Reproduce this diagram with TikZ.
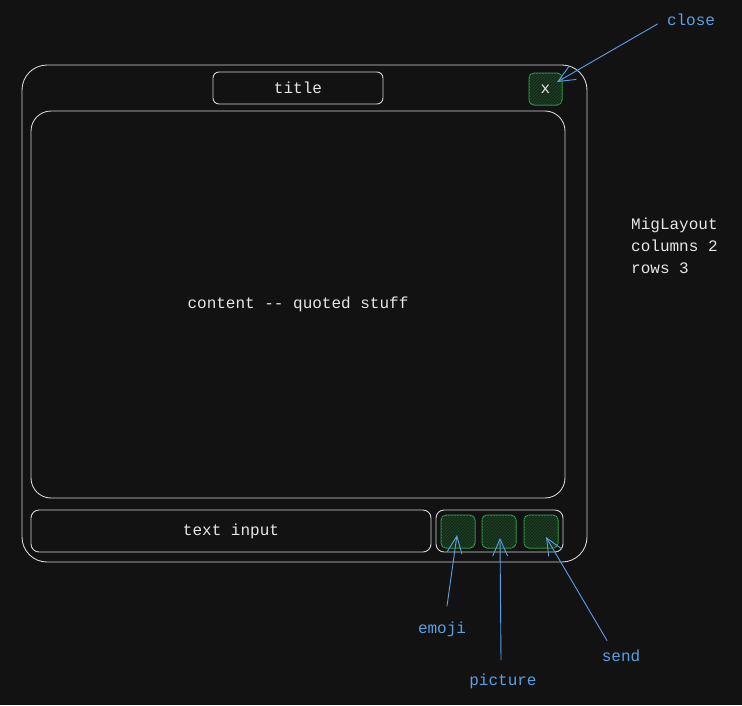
\documentclass[tikz,border=0pt]{standalone}
\usepackage{fontspec}
\setmonofont{Liberation Mono}
\usetikzlibrary{arrows.meta,patterns}
\definecolor{bgcol}{HTML}{121212}
\definecolor{linecol}{HTML}{D4D4D4}
\definecolor{txtcol}{HTML}{E6E6E6}
\definecolor{notecol}{HTML}{5AA0E4}
\definecolor{btnline}{HTML}{2F9E44}
\definecolor{btnfill}{HTML}{142A17}
\definecolor{btnhatch}{HTML}{20452A}
\tikzset{
	panel/.style={draw=linecol,line width=0.9pt,rounded corners=#1,inner sep=0pt},
	btn/.style={draw=btnline,line width=1pt,rounded corners=5pt,fill=btnfill,
		postaction={pattern=north east lines,pattern color=btnhatch},
		minimum width=34pt,minimum height=33pt,inner sep=0pt},
	note/.style={text=notecol,font=\ttfamily\fontsize{16}{20}\selectfont},
	pointer/.style={draw=notecol,line width=0.9pt,-{Straight Barb[length=17pt,width=15pt,line width=0.9pt]}}
}
\begin{document}
\begin{tikzpicture}[x=1pt,y=-1pt,line join=round,line cap=round,font=\ttfamily\fontsize{16}{22}\selectfont,text=txtcol]
	\fill[bgcol] (0,0) rectangle (742,705);
	\useasboundingbox (0,0) rectangle (742,705);
	% window frame and rows
	\node[panel=25pt,minimum width=565pt,minimum height=497pt] (frame) at (304.5,313.5) {};
	\node[panel=6pt,minimum width=170pt,minimum height=32pt] (title) at (298,88) {title};
	\node[btn,minimum width=33pt,minimum height=32pt] (close) at (545.5,89) {x};
	\node[panel=20pt,minimum width=534pt,minimum height=387pt] (content) at (298,304.5) {content -- quoted stuff};
	\node[panel=8pt,minimum width=400pt,minimum height=42pt] (input) at (231,531) {text input};
	\node[panel=8pt,minimum width=127pt,minimum height=42pt] (tools) at (499.5,531) {};
	\node[btn] (emoji) at (458,531.5) {};
	\node[btn] (picture) at (499,531.5) {};
	\node[btn] (send) at (541,531.5) {};
	% notes
	\node[align=left,anchor=north west,inner sep=0pt] (layout) at (631,218) {MigLayout\\columns 2\\rows 3};
	\node[note] (closelbl) at (691,20) {close};
	\node[note] (emojilbl) at (442,629) {emoji};
	\node[note] (piclbl) at (503,681) {picture};
	\node[note] (sendlbl) at (621,656) {send};
	\coordinate (closetip) at (557,82);
	\coordinate (emojitip) at (457,535);
	\coordinate (pictip) at (500,538);
	\coordinate (sendtip) at (546,537);
	\draw[pointer] (closelbl.west) ++(-6,4) -- (closetip);
	\draw[pointer] (emojilbl.north) ++(5,-12) -- (emojitip);
	\draw[pointer] (piclbl.north) ++(-2,-10) -- (pictip);
	\draw[pointer] (sendlbl.north) ++(-14,-6) -- (sendtip);
\end{tikzpicture}
\end{document}
